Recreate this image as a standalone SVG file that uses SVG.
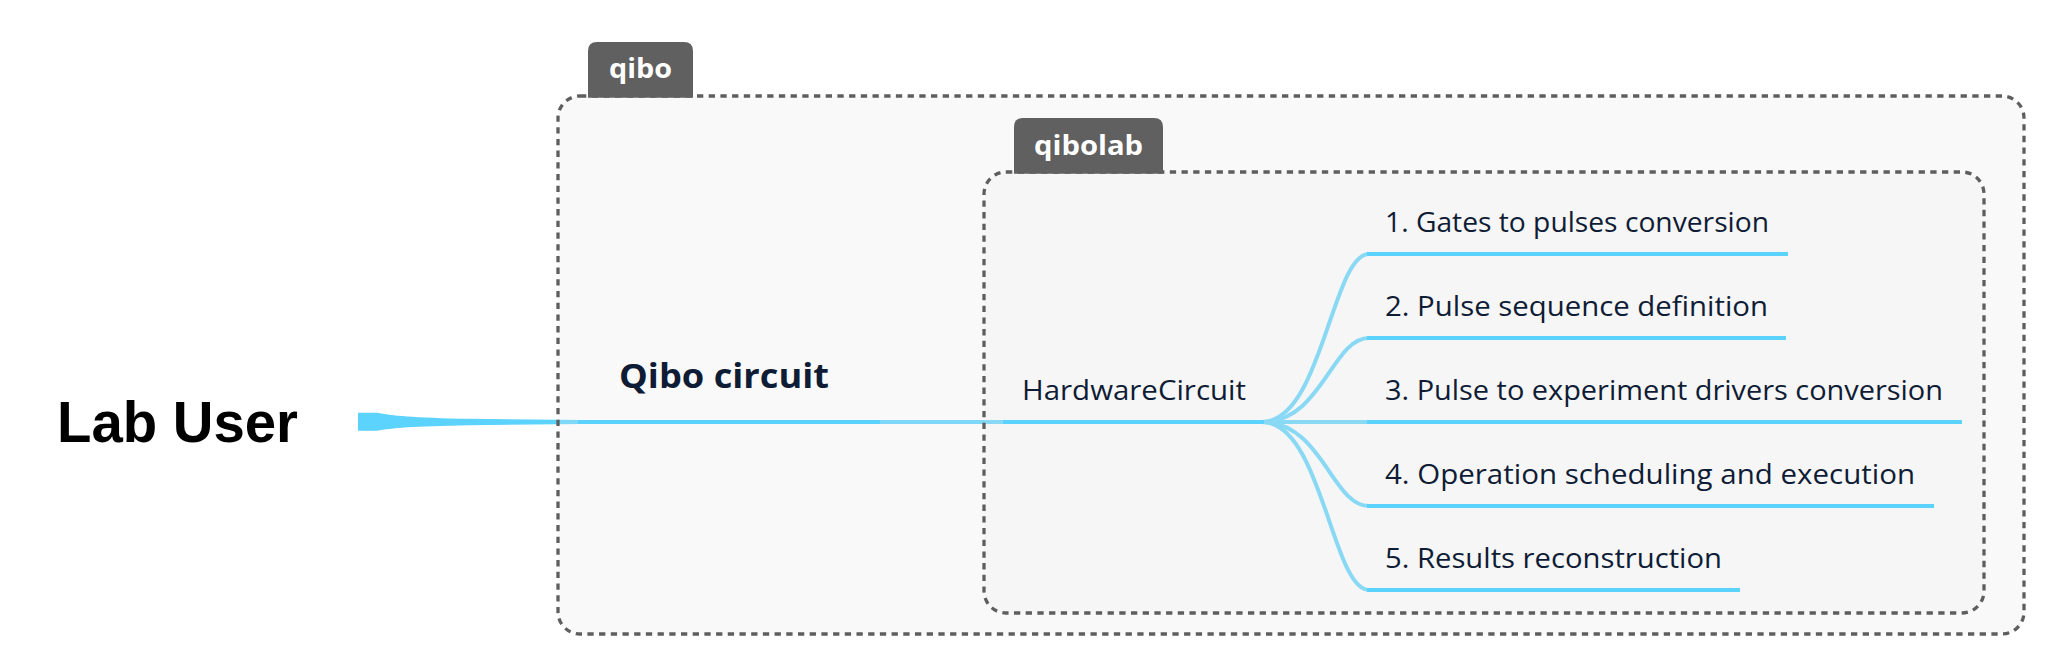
<svg xmlns="http://www.w3.org/2000/svg" width="2072" height="662" viewBox="0 0 2072 662">
  <style>
    .line { stroke: #5bd3fd; stroke-width: 4; fill: none; }
    .conn { stroke: #5bd3fd; stroke-width: 4; fill: none; stroke-linecap: butt; }
    .border { fill: none; stroke: #5e5e5e; stroke-width: 3.3; stroke-dasharray: 6.3 5.4; }
    .tab { fill: #606060; }
    .tablabel { font-family: "Open Sans", "Liberation Sans", sans-serif; font-weight: bold; font-size: 26px; fill: #ffffff; text-anchor: middle; }
    .topic { font-family: "Open Sans", "Liberation Sans", sans-serif; font-size: 27.5px; fill: #0f1c35; }
    .main { font-family: "Open Sans", "Liberation Sans", sans-serif; font-weight: bold; font-size: 34px; fill: #0f1c35; }
    .central { font-family: "Liberation Sans", Arial, sans-serif; font-weight: bold; font-size: 57px; fill: #000000; }
  </style>
  <rect x="0" y="0" width="2072" height="662" fill="#ffffff"/>

  <g id="connectors">
    <path d="M358,412.7 L377,412.7 C392,415.5 412,417.8 470,418.8 L582,420 L582,424 L470,425.2 C412,426.2 392,428 377,430.7 L358,430.7 Z" fill="#5bd3fd"/>
    <line class="conn" x1="878" y1="422" x2="1005" y2="422"/>
    <path class="conn" d="M1262,422 C1322,422 1332,254 1369,254"/>
    <path class="conn" d="M1262,422 C1322,422 1332,338 1369,338"/>
    <line class="conn" x1="1262" y1="422" x2="1369" y2="422"/>
    <path class="conn" d="M1262,422 C1322,422 1332,506 1369,506"/>
    <path class="conn" d="M1262,422 C1322,422 1332,590 1369,590"/>
  </g>

  <g id="boundary-qibo">
    <rect x="558" y="96" width="1466" height="538" rx="22" ry="22" fill="#e8e8e8" fill-opacity="0.26"/>
    <rect class="border" x="558" y="96" width="1466" height="538" rx="22" ry="22"/>
    <path class="tab" d="M588,97.7 V51 Q588,42 597,42 H684 Q693,42 693,51 V97.7 Z"/>
    <text class="tablabel" x="640.5" y="77.5" textLength="63" lengthAdjust="spacingAndGlyphs">qibo</text>
  </g>

  <g id="boundary-qibolab">
    <rect x="984" y="172" width="1000" height="441" rx="22" ry="22" fill="#e0e0e0" fill-opacity="0.1"/>
    <rect class="border" x="984" y="172" width="1000" height="441" rx="22" ry="22"/>
    <path class="tab" d="M1014,173.7 V127 Q1014,118 1023,118 H1154 Q1163,118 1163,127 V173.7 Z"/>
    <text class="tablabel" x="1088.5" y="155" textLength="109" lengthAdjust="spacingAndGlyphs">qibolab</text>
  </g>

  <g id="node-lab-user">
    <text class="central" x="57" y="442" textLength="241" lengthAdjust="spacingAndGlyphs">Lab User</text>
  </g>

  <g id="node-qibo-circuit">
    <line class="line" x1="578" y1="422" x2="880" y2="422"/>
    <text class="main" x="619" y="388" textLength="210" lengthAdjust="spacingAndGlyphs">Qibo circuit</text>
  </g>

  <g id="node-hardware-circuit">
    <line class="line" x1="1003" y1="422" x2="1264" y2="422"/>
    <text class="topic" x="1022" y="400" textLength="224" lengthAdjust="spacingAndGlyphs">HardwareCircuit</text>
  </g>

  <g id="node-step1">
    <line class="line" x1="1367" y1="254" x2="1788" y2="254"/>
    <text class="topic" x="1385" y="232" textLength="384" lengthAdjust="spacingAndGlyphs">1. Gates to pulses conversion</text>
  </g>

  <g id="node-step2">
    <line class="line" x1="1367" y1="338" x2="1786" y2="338"/>
    <text class="topic" x="1385" y="316" textLength="383" lengthAdjust="spacingAndGlyphs">2. Pulse sequence definition</text>
  </g>

  <g id="node-step3">
    <line class="line" x1="1367" y1="422" x2="1962" y2="422"/>
    <text class="topic" x="1385" y="400" textLength="558" lengthAdjust="spacingAndGlyphs">3. Pulse to experiment drivers conversion</text>
  </g>

  <g id="node-step4">
    <line class="line" x1="1367" y1="506" x2="1934" y2="506"/>
    <text class="topic" x="1385" y="484" textLength="530" lengthAdjust="spacingAndGlyphs">4. Operation scheduling and execution</text>
  </g>

  <g id="node-step5">
    <line class="line" x1="1367" y1="590" x2="1740" y2="590"/>
    <text class="topic" x="1385" y="568" textLength="337" lengthAdjust="spacingAndGlyphs">5. Results reconstruction</text>
  </g>
</svg>
